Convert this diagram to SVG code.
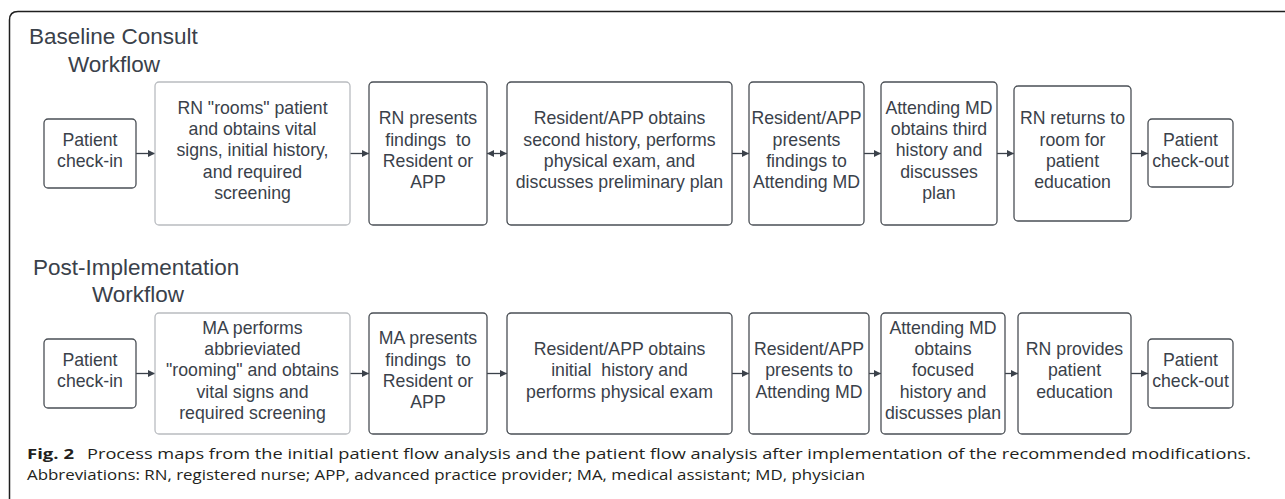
<svg xmlns="http://www.w3.org/2000/svg" width="1285" height="499" viewBox="0 0 1285 499">
<style>
.box{fill:#fff;stroke:#4a4f55;stroke-width:1.3}
.lbox{fill:#fff;stroke:#b9bcc0;stroke-width:1.3}
.t{font-family:"Liberation Sans",Arial,sans-serif;font-size:17.7px;fill:#3a414a;text-anchor:middle;white-space:pre}
.ttl{font-family:"Liberation Sans",Arial,sans-serif;font-size:22.5px;fill:#3a414a}
.cap{font-family:"Open Sans","Noto Sans",sans-serif;font-size:14.8px;fill:#231f20}
.conn line{stroke:#3a414a;stroke-width:1.3}
</style>
<defs>
<marker id="ah" viewBox="0 0 10 10" refX="10" refY="5" markerWidth="9" markerHeight="7" markerUnits="userSpaceOnUse" orient="auto-start-reverse"><path d="M0,0 L10,5 L0,10 z" fill="#3a414a"/></marker>
<marker id="ah2" viewBox="0 0 10 10" refX="10" refY="5" markerWidth="10" markerHeight="7" markerUnits="userSpaceOnUse" orient="auto-start-reverse"><path d="M0,0 L10,5 L0,10 z" fill="#3a414a"/></marker>
</defs>
<rect x="0" y="0" width="1285" height="499" fill="#fff"/>
<path d="M1290,11.5 H18 Q9.5,11.5 9.5,20 V505" fill="none" stroke="#1f1f1f" stroke-width="1.5"/>

<text class="ttl" x="29" y="44">Baseline Consult</text>
<text class="ttl" x="68" y="72">Workflow</text>
<text class="ttl" x="33" y="275">Post-Implementation</text>
<text class="ttl" x="92" y="302">Workflow</text>

<g class="conn">
<line x1="136" y1="153.5" x2="155" y2="153.5" marker-end="url(#ah)"/>
<line x1="350" y1="153.5" x2="369" y2="153.5" marker-end="url(#ah)"/>
<line x1="487" y1="153.5" x2="507" y2="153.5" marker-start="url(#ah2)" marker-end="url(#ah2)"/>
<line x1="732" y1="153.5" x2="749" y2="153.5" marker-end="url(#ah)"/>
<line x1="864" y1="153.5" x2="881" y2="153.5" marker-end="url(#ah)"/>
<line x1="997" y1="153.5" x2="1014" y2="153.5" marker-end="url(#ah)"/>
<line x1="1131" y1="153.5" x2="1148" y2="153.5" marker-end="url(#ah)"/>
<line x1="136" y1="373.5" x2="155" y2="373.5" marker-end="url(#ah)"/>
<line x1="350" y1="373.5" x2="369" y2="373.5" marker-end="url(#ah)"/>
<line x1="487" y1="373.5" x2="507" y2="373.5" marker-end="url(#ah)"/>
<line x1="732" y1="373.5" x2="749" y2="373.5" marker-end="url(#ah)"/>
<line x1="869" y1="373.5" x2="881" y2="373.5" marker-end="url(#ah)"/>
<line x1="1005" y1="373.5" x2="1018" y2="373.5" marker-end="url(#ah)"/>
<line x1="1131" y1="373.5" x2="1148" y2="373.5" marker-end="url(#ah)"/>
</g>

<g id="b1">
<rect class="box" x="44" y="119" width="92" height="69" rx="4"/>
<text class="t"><tspan x="90" y="145.6">Patient</tspan><tspan x="90" y="166.9">check-in</tspan></text>
</g>
<g id="b2">
<rect class="lbox" x="155" y="82" width="195" height="143" rx="4"/>
<text class="t"><tspan x="252.5" y="113.65">RN "rooms" patient</tspan><tspan x="252.5" y="134.95">and obtains vital</tspan><tspan x="252.5" y="156.25">signs, initial history,</tspan><tspan x="252.5" y="177.55">and required</tspan><tspan x="252.5" y="198.85">screening</tspan></text>
</g>
<g id="b3">
<rect class="box" x="369" y="82" width="118" height="143" rx="4"/>
<text class="t"><tspan x="428" y="124.3">RN presents</tspan><tspan x="428" y="145.6">findings  to</tspan><tspan x="428" y="166.9">Resident or</tspan><tspan x="428" y="188.2">APP</tspan></text>
</g>
<g id="b4">
<rect class="box" x="507" y="82" width="225" height="143" rx="4"/>
<text class="t"><tspan x="619.5" y="124.3">Resident/APP obtains</tspan><tspan x="619.5" y="145.6">second history, performs</tspan><tspan x="619.5" y="166.9">physical exam, and</tspan><tspan x="619.5" y="188.2">discusses preliminary plan</tspan></text>
</g>
<g id="b5">
<rect class="box" x="749" y="82" width="115" height="143" rx="4"/>
<text class="t"><tspan x="806.5" y="124.3">Resident/APP</tspan><tspan x="806.5" y="145.6">presents</tspan><tspan x="806.5" y="166.9">findings to</tspan><tspan x="806.5" y="188.2">Attending MD</tspan></text>
</g>
<g id="b6">
<rect class="box" x="881" y="82" width="116" height="143" rx="4"/>
<text class="t"><tspan x="939" y="113.65">Attending MD</tspan><tspan x="939" y="134.95">obtains third</tspan><tspan x="939" y="156.25">history and</tspan><tspan x="939" y="177.55">discusses</tspan><tspan x="939" y="198.85">plan</tspan></text>
</g>
<g id="b7">
<rect class="box" x="1014" y="86" width="117" height="135" rx="4"/>
<text class="t"><tspan x="1072.5" y="124.3">RN returns to</tspan><tspan x="1072.5" y="145.6">room for</tspan><tspan x="1072.5" y="166.9">patient</tspan><tspan x="1072.5" y="188.2">education</tspan></text>
</g>
<g id="b8">
<rect class="box" x="1148" y="119" width="85" height="68" rx="4"/>
<text class="t"><tspan x="1190.5" y="145.6">Patient</tspan><tspan x="1190.5" y="166.9">check-out</tspan></text>
</g>

<g id="p1">
<rect class="box" x="44" y="339" width="92" height="69" rx="4"/>
<text class="t"><tspan x="90" y="365.6">Patient</tspan><tspan x="90" y="386.9">check-in</tspan></text>
</g>
<g id="p2">
<rect class="lbox" x="155" y="313" width="195" height="121" rx="4"/>
<text class="t"><tspan x="252.5" y="333.65">MA performs</tspan><tspan x="252.5" y="354.95">abbrieviated</tspan><tspan x="252.5" y="376.25">"rooming" and obtains</tspan><tspan x="252.5" y="397.55">vital signs and</tspan><tspan x="252.5" y="418.85">required screening</tspan></text>
</g>
<g id="p3">
<rect class="box" x="369" y="313" width="118" height="121" rx="4"/>
<text class="t"><tspan x="428" y="344.3">MA presents</tspan><tspan x="428" y="365.6">findings  to</tspan><tspan x="428" y="386.9">Resident or</tspan><tspan x="428" y="408.2">APP</tspan></text>
</g>
<g id="p4">
<rect class="box" x="507" y="313" width="225" height="121" rx="4"/>
<text class="t"><tspan x="619.5" y="354.95">Resident/APP obtains</tspan><tspan x="619.5" y="376.25">initial  history and</tspan><tspan x="619.5" y="397.55">performs physical exam</tspan></text>
</g>
<g id="p5">
<rect class="box" x="749" y="313" width="120" height="121" rx="4"/>
<text class="t"><tspan x="809" y="354.95">Resident/APP</tspan><tspan x="809" y="376.25">presents to</tspan><tspan x="809" y="397.55">Attending MD</tspan></text>
</g>
<g id="p6">
<rect class="box" x="881" y="313" width="124" height="121" rx="4"/>
<text class="t"><tspan x="943" y="333.65">Attending MD</tspan><tspan x="943" y="354.95">obtains</tspan><tspan x="943" y="376.25">focused</tspan><tspan x="943" y="397.55">history and</tspan><tspan x="943" y="418.85">discusses plan</tspan></text>
</g>
<g id="p7">
<rect class="box" x="1018" y="313" width="113" height="121" rx="4"/>
<text class="t"><tspan x="1074.5" y="354.95">RN provides</tspan><tspan x="1074.5" y="376.25">patient</tspan><tspan x="1074.5" y="397.55">education</tspan></text>
</g>
<g id="p8">
<rect class="box" x="1148" y="339" width="85" height="69" rx="4"/>
<text class="t"><tspan x="1190.5" y="365.6">Patient</tspan><tspan x="1190.5" y="386.9">check-out</tspan></text>
</g>

<text class="cap" x="27" y="458.5" font-weight="bold" textLength="47" lengthAdjust="spacingAndGlyphs">Fig. 2</text>
<text class="cap" x="87" y="458.5" textLength="1164" lengthAdjust="spacingAndGlyphs">Process maps from the initial patient flow analysis and the patient flow analysis after implementation of the recommended modifications.</text>
<text class="cap" x="27" y="479.5" textLength="838" lengthAdjust="spacingAndGlyphs">Abbreviations: RN, registered nurse; APP, advanced practice provider; MA, medical assistant; MD, physician</text>
</svg>
